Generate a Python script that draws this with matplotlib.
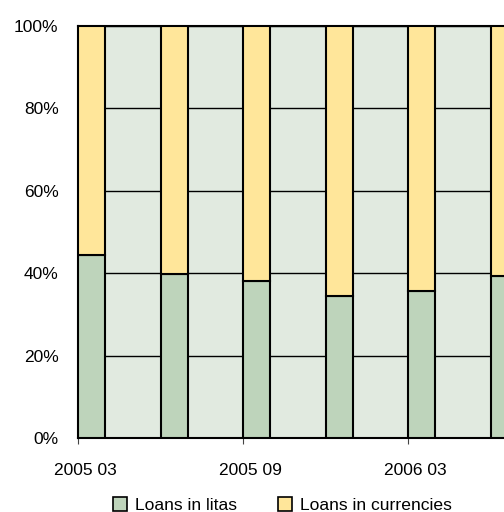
import matplotlib.pyplot as plt
import matplotlib.transforms as mtransforms
from matplotlib.patches import Patch

# quarterly shares of loans (%), litas vs foreign currencies
periods = ['2005 03', '2005 06', '2005 09', '2005 12', '2006 03', '2006 06']
litas = [44.4, 39.8, 38.2, 34.5, 35.6, 39.2]
currencies = [100 - v for v in litas]
tick_labels = ['2005 03', '2005 09', '2006 03']

green = '#BED4BB'
yellow = '#FFE69A'
bg = '#E1EAE0'

plt.rcParams['font.family'] = ['Liberation Sans', 'DejaVu Sans']

fig = plt.figure(figsize=(5.04, 5.12), dpi=100)
# the plot area runs past the right edge of the figure
ax = fig.add_axes([78 / 504, 74 / 512, 495 / 504, 412 / 512])
ax.set_facecolor(bg)

x = list(range(len(periods)))
ax.bar(x, litas, width=0.33, align='edge', color=green, edgecolor='black', linewidth=1.5, zorder=3)
ax.bar(x, currencies, bottom=litas, width=0.33, align='edge', color=yellow,
       edgecolor='black', linewidth=1.5, zorder=3)

ax.set_xlim(0, 6)
ax.set_ylim(0, 100)
ax.set_yticks([0, 20, 40, 60, 80, 100])
ax.set_yticklabels([f'{v}%' for v in range(0, 101, 20)])
ax.set_xticks([0, 2, 4])
ax.set_xticklabels(tick_labels)
ax.yaxis.grid(True, color='black', linewidth=1, zorder=1)
ax.set_axisbelow(True)

ax.tick_params(axis='y', length=0, pad=14, labelsize=12.5)
ax.tick_params(axis='x', length=4, width=0.8, color='#444444', pad=14, labelsize=12.5)
offset = mtransforms.ScaledTranslation(7 / 100, 0, fig.dpi_scale_trans)
for lbl in ax.get_xticklabels():
    lbl.set_transform(lbl.get_transform() + offset)

for side in ['left', 'bottom', 'top']:
    ax.spines[side].set_linewidth(1.5)
    ax.spines[side].set_color('black')
ax.spines['right'].set_visible(False)

handles = [Patch(facecolor=green, edgecolor='black', linewidth=1.2, label='Loans in litas'),
           Patch(facecolor=yellow, edgecolor='black', linewidth=1.2, label='Loans in currencies')]
fig.legend(handles=handles, loc='lower left', bbox_to_anchor=(106 / 504, -8 / 512), ncol=2,
           frameon=False, fontsize=12.6, handlelength=0.8, handleheight=0.8,
           handletextpad=0.45, columnspacing=2.35, borderaxespad=0)

fig.savefig('out.png', dpi=100)
